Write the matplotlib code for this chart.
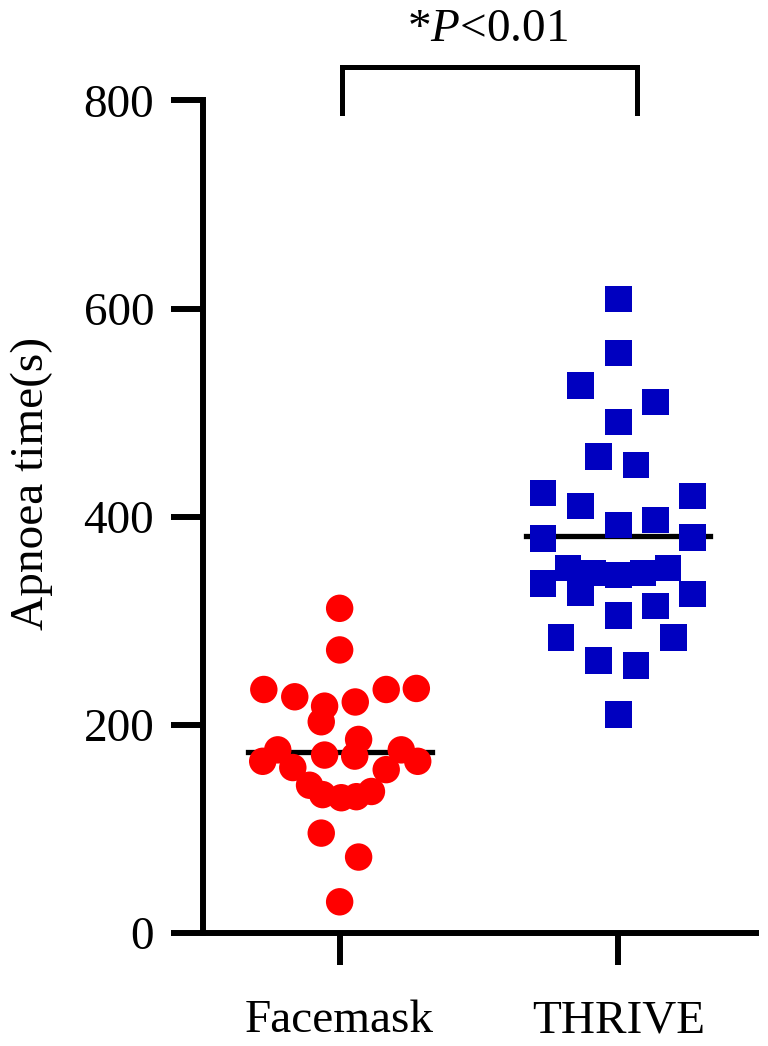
import matplotlib
matplotlib.use('Agg')
import matplotlib.pyplot as plt
import numpy as np

plt.rcParams['font.family'] = ['Liberation Serif', 'DejaVu Serif']
plt.rcParams['mathtext.fontset'] = 'custom'
plt.rcParams['mathtext.rm'] = 'Liberation Serif'
plt.rcParams['mathtext.it'] = 'Liberation Serif:italic'

# apnoea times (s), with beeswarm x offsets
groups = ['Facemask', 'THRIVE']

facemask_time = [312, 272, 234, 227, 218, 203, 222, 234, 235, 186, 176, 165, 159,
                 171, 170, 176, 165, 157, 142, 133, 130, 131, 136, 96, 73, 30]
facemask_dx = [0.0, 0.0, -0.272, -0.161, -0.054, -0.066, 0.056, 0.167, 0.275, 0.068,
               -0.222, -0.276, -0.168, -0.054, 0.054, 0.221, 0.28, 0.167, -0.108,
               -0.061, 0.006, 0.06, 0.114, -0.066, 0.068, 0.0]

thrive_time = [609, 557, 526, 510, 491, 458, 450, 423, 410, 420, 392, 397, 379, 380,
               336, 351, 327, 346, 344, 346, 351, 326, 305, 314, 284, 284, 262, 257, 210]
thrive_dx = [0.0, 0.0, -0.136, 0.133, 0.0, -0.072, 0.062, -0.271, -0.136, 0.266, 0.0,
             0.133, -0.271, 0.266, -0.271, -0.182, -0.136, -0.092, 0.0, 0.087, 0.177,
             0.266, 0.0, 0.133, -0.205, 0.197, -0.072, 0.062, 0.0]

facemask_line = 174
thrive_line = 381

fig = plt.figure(figsize=(7.68, 10.46), dpi=100)
ax = fig.add_axes([0.264, 0.108, 0.721, 0.796])

ax.scatter(1 + np.array(facemask_dx), facemask_time, s=390, marker='o',
           color='#ff0000', edgecolors='none', zorder=3, clip_on=False)
ax.scatter(2 + np.array(thrive_dx), thrive_time, s=360, marker='s',
           color='#0000c0', edgecolors='none', zorder=3, clip_on=False)

ax.plot([1 - 0.33, 1 + 0.33], [facemask_line, facemask_line], color='black', lw=3.8, zorder=2)
ax.plot([2 - 0.33, 2 + 0.33], [thrive_line, thrive_line], color='black', lw=3.8, zorder=2)

ax.set_xlim(0.509, 2.495)
ax.set_ylim(0, 800)
ax.set_xticks([1, 2])
ax.set_xticklabels(groups)
ax.set_yticks([0, 200, 400, 600, 800])

for side in ['top', 'right']:
    ax.spines[side].set_visible(False)
for side in ['left', 'bottom']:
    ax.spines[side].set_linewidth(4.3)
ax.tick_params(axis='both', width=4.3, length=23, labelsize=34, color='black')
ax.tick_params(axis='x', pad=25)
ax.tick_params(axis='y', pad=12)

ax.set_ylabel('Apnoea time(s)', fontsize=34)
ax.yaxis.set_label_coords(-0.27, 0.54)

# significance bracket
ax.plot([1.01, 1.01, 2.065, 2.065], [788, 832, 832, 788], color='black', lw=3.6,
        clip_on=False, solid_joinstyle='miter')
ax.text(1.53, 857, r'*$\mathit{P}$<0.01', ha='center', va='baseline', fontsize=34)

fig.savefig('out.png', dpi=100)
